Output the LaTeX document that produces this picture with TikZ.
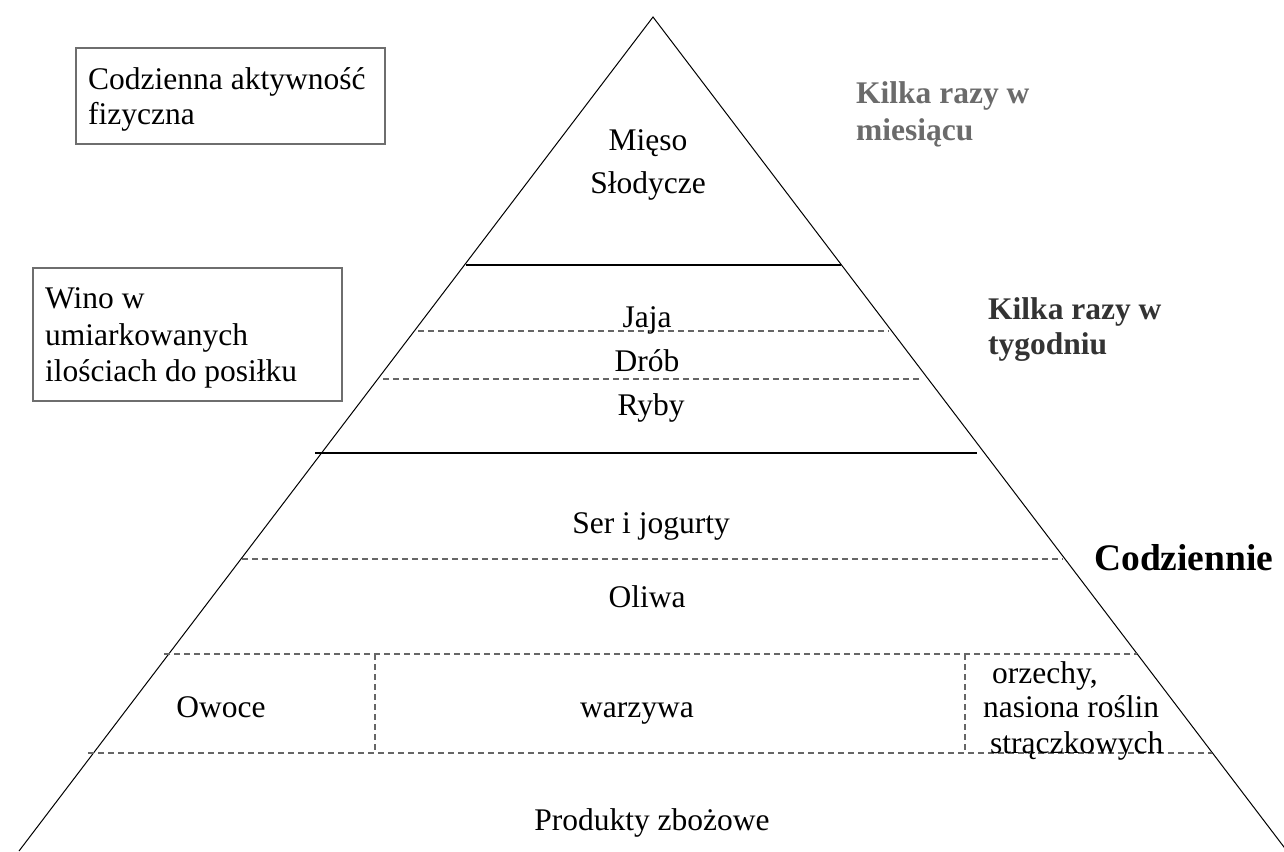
\documentclass[tikz,border=0pt]{standalone}
\usepackage{fontspec}
\setmainfont{Liberation Serif}
\definecolor{lblgray}{HTML}{6B6B6B}
\definecolor{lbldark}{HTML}{333333}
\definecolor{dashgray}{HTML}{666666}
\definecolor{boxgray}{HTML}{6E6E6E}
\begin{document}
\begin{tikzpicture}[x=1pt,y=-1pt,
  txt/.style={inner sep=0pt, font=\fontsize{31.5pt}{36pt}\selectfont},
  bigtxt/.style={inner sep=0pt, font=\fontsize{37.5pt}{42pt}\selectfont\bfseries},
  boldtxt/.style={inner sep=0pt, font=\fontsize{31.5pt}{36pt}\selectfont\bfseries},
  edge/.style={draw=black, line width=1pt},
  bar/.style={draw=black, line width=2.6pt},
  dashline/.style={draw=dashgray, line width=1.3pt, dash pattern=on 6pt off 4pt},
  boxline/.style={draw=boxgray, line width=1.5pt}]
\useasboundingbox (0,0) rectangle (1284,851);
\fill[white] (0,0) rectangle (1284,851);
\clip (0,0) rectangle (1284,851);
% pyramid
\coordinate (apex) at (653,17);
\coordinate (bl) at (19,851);
\coordinate (br) at (1287,851);
\draw[edge] (bl) -- (apex) -- (br);
% solid separators
\draw[bar] (466,265) -- (841,265);
\draw[bar] (315,453) -- (977,453);
% dashed separators
\draw[dashline] (418,331) -- (889,331);
\draw[dashline] (383,379) -- (921,379);
\draw[dashline] (242,559) -- (1063,559);
\draw[dashline] (164,654) -- (1137,654);
\draw[dashline] (88,753) -- (1212,753);
\draw[dashline] (375,654) -- (375,753);
\draw[dashline] (965,654) -- (965,753);
% side boxes
\draw[boxline] (76,48) rectangle (385,144);
\draw[boxline] (33,268) rectangle (342,401);
\node[txt, anchor=base west] (akt1) at (88,89) {Codzienna aktywność};
\node[txt, anchor=base west] (akt2) at (88,124) {fizyczna};
\node[txt, anchor=base west] (wino1) at (45,308) {Wino w};
\node[txt, anchor=base west] (wino2) at (45,345) {umiarkowanych};
\node[txt, anchor=base west] (wino3) at (45,381) {ilościach do posiłku};
% frequency labels
\node[boldtxt, text=lblgray, anchor=base west] (mies1) at (856,103) {Kilka razy w};
\node[boldtxt, text=lblgray, anchor=base west] (mies2) at (856,140) {miesiącu};
\node[boldtxt, text=lbldark, anchor=base west] (tyg1) at (988,319) {Kilka razy w};
\node[boldtxt, text=lbldark, anchor=base west] (tyg2) at (988,354) {tygodniu};
\node[bigtxt, text=black, anchor=base west] (codz) at (1094,570) {Codziennie};
% pyramid contents
\node[txt, anchor=base] (mieso) at (648,150) {Mięso};
\node[txt, anchor=base] (slodycze) at (648,193) {Słodycze};
\node[txt, anchor=base] (jaja) at (647,327) {Jaja};
\node[txt, anchor=base] (drob) at (647,371) {Drób};
\node[txt, anchor=base] (ryby) at (651,415) {Ryby};
\node[txt, anchor=base] (ser) at (651,533) {Ser i jogurty};
\node[txt, anchor=base] (oliwa) at (647,607) {Oliwa};
\node[txt, anchor=base] (owoce) at (221,717) {Owoce};
\node[txt, anchor=base] (warzywa) at (637,717) {warzywa};
\node[txt, anchor=base west] (orz1) at (992,683) {orzechy,};
\node[txt, anchor=base west] (orz2) at (983,717) {nasiona roślin};
\node[txt, anchor=base west] (orz3) at (990,753) {strączkowych};
\node[txt, anchor=base] (zboz) at (652,830) {Produkty zbożowe};
\end{tikzpicture}
\end{document}
